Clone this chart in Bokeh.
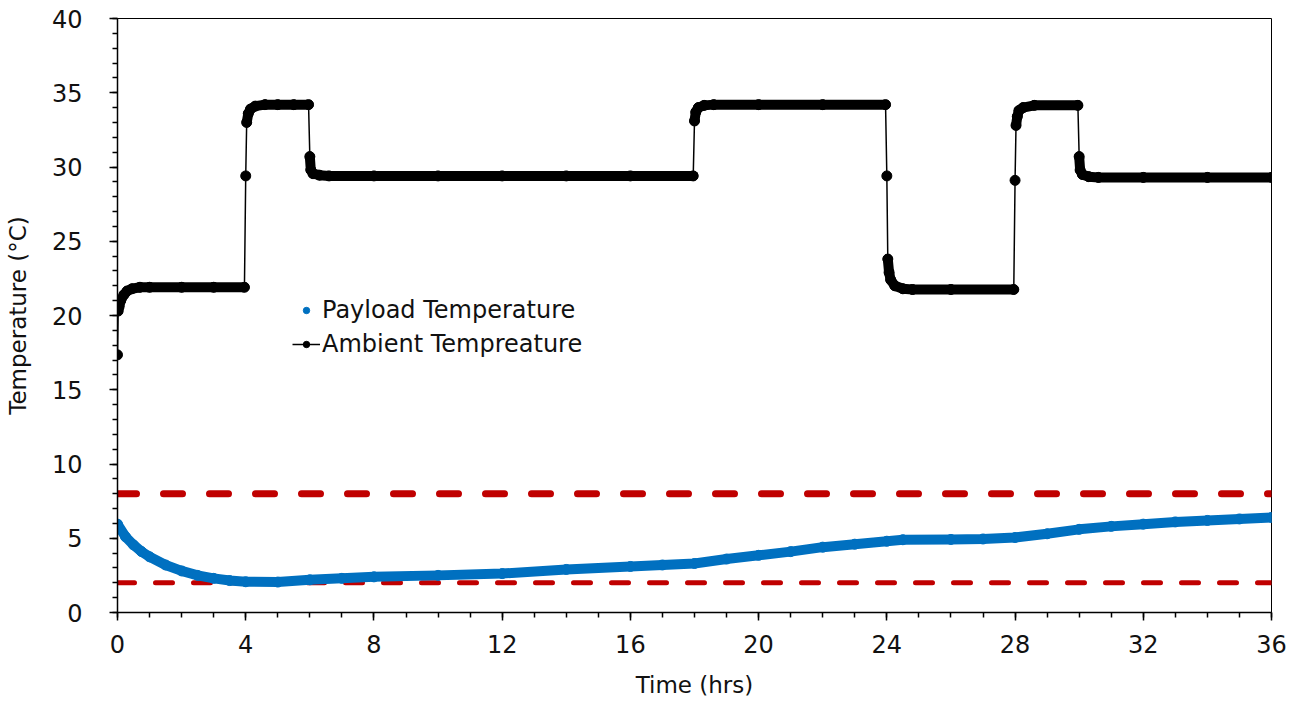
from bokeh.plotting import figure
from bokeh.models import SingleIntervalTicker, Legend, LegendItem
from bokeh.embed import file_html
from bokeh.resources import INLINE

# ---------------- data ----------------
amb_time = [0.0, 0.02, 0.05, 0.1, 0.2, 0.3, 0.45, 0.7, 1.0, 2.0, 3.0, 3.96,
            4.0, 4.03, 4.08, 4.15, 4.3, 4.6, 5.0, 5.5, 5.96,
            6.0, 6.03, 6.1, 6.3, 6.6, 8.0, 10.0, 12.0, 14.0, 16.0, 17.96,
            18.0, 18.04, 18.12, 18.3, 18.6, 20.0, 22.0, 23.96,
            24.0, 24.03, 24.07, 24.12, 24.25, 24.5, 24.8, 26.0, 27.96,
            28.0, 28.03, 28.07, 28.12, 28.25, 28.6, 29.96,
            30.0, 30.03, 30.1, 30.3, 30.6, 32.0, 34.0, 36.0]
amb_temp = [17.35, 20.3, 20.6, 21.0, 21.4, 21.65, 21.8, 21.9, 21.9, 21.9, 21.9, 21.9,
            29.4, 33.0, 33.6, 33.9, 34.1, 34.2, 34.2, 34.2, 34.2,
            30.7, 29.8, 29.55, 29.45, 29.4, 29.4, 29.4, 29.4, 29.4, 29.4, 29.4,
            33.1, 33.7, 34.0, 34.15, 34.2, 34.2, 34.2, 34.2,
            29.4, 23.8, 22.9, 22.4, 22.0, 21.8, 21.75, 21.75, 21.75,
            29.1, 32.8, 33.4, 33.8, 34.0, 34.15, 34.15,
            30.7, 29.8, 29.5, 29.35, 29.3, 29.3, 29.3, 29.3]

pay_time = [0.0, 0.25, 0.5, 0.75, 1.0, 1.5, 2.0, 2.5, 3.0, 3.5, 4.0, 5.0, 6.0, 7.0, 8.0,
            10.0, 12.0, 14.0, 16.0, 17.0, 18.0, 19.0, 20.0, 21.0, 22.0, 23.0, 24.0,
            24.5, 26.0, 27.0, 28.0, 29.0, 30.0, 31.0, 32.0, 33.0, 34.0, 35.0, 36.0]
pay_temp = [5.95, 5.1, 4.55, 4.1, 3.75, 3.2, 2.8, 2.5, 2.3, 2.15, 2.07, 2.05, 2.2, 2.3, 2.4,
            2.5, 2.62, 2.9, 3.1, 3.2, 3.3, 3.6, 3.85, 4.1, 4.4, 4.6, 4.8,
            4.9, 4.92, 4.95, 5.05, 5.3, 5.6, 5.8, 5.95, 6.1, 6.2, 6.3, 6.4]

limit_time = [0, 36]
upper_limit = [8, 8]
lower_limit = [2, 2]

FONT = "DejaVu Sans"
TXT = "#111111"
BLUE = "#0070C0"
RED = "#C00000"

p = figure(width=1291, height=700, x_range=(0, 36), y_range=(0, 40),
           output_backend="svg", toolbar_location=None,
           min_border_left=117, min_border_right=20, min_border_top=18, min_border_bottom=87)
p.xgrid.visible = False
p.ygrid.visible = False
p.outline_line_color = "black"
p.outline_line_width = 1
p.background_fill_color = "white"
p.border_fill_color = "white"

# limit lines
p.line(limit_time, upper_limit, line_color=RED, line_width=7, line_dash="19 27", line_cap="round")
p.line(limit_time, lower_limit, line_color=RED, line_width=5, line_dash="17 21", line_cap="round")

# payload
p.line(pay_time, pay_temp, line_color=BLUE, line_width=10, line_cap="round", line_join="round")
pay_sc = p.scatter(pay_time, pay_temp, size=10, marker="circle", fill_color=BLUE, line_color=BLUE)

# ambient
amb_line = p.line(amb_time, amb_temp, line_color="black", line_width=1.5)
x0, y0, x1, y1 = [], [], [], []
for i in range(len(amb_time) - 1):
    if abs(amb_temp[i + 1] - amb_temp[i]) < 1.0:
        x0.append(amb_time[i]); y0.append(amb_temp[i])
        x1.append(amb_time[i + 1]); y1.append(amb_temp[i + 1])
p.segment(x0=x0, y0=y0, x1=x1, y1=y1, line_color="black", line_width=10, line_cap="round")
amb_sc = p.scatter(amb_time, amb_temp, size=10, marker="circle", fill_color="black", line_color="black")

# axes
p.xaxis.ticker = SingleIntervalTicker(interval=4, num_minor_ticks=4)
p.yaxis.ticker = SingleIntervalTicker(interval=5, num_minor_ticks=5)
p.xaxis.axis_label = "Time (hrs)"
p.yaxis.axis_label = "Temperature (°C)"
for ax in (p.xaxis, p.yaxis):
    ax.axis_line_color = "black"
    ax.axis_line_width = 1.5
    ax.major_tick_line_color = "black"
    ax.major_tick_line_width = 1.5
    ax.minor_tick_line_color = "black"
    ax.minor_tick_line_width = 1.5
    ax.major_tick_in = 0
    ax.major_tick_out = 8
    ax.minor_tick_in = 0
    ax.minor_tick_out = 5
    ax.major_label_text_font = FONT
    ax.major_label_text_font_size = "24px"
    ax.major_label_text_color = TXT
    ax.axis_label_text_font = FONT
    ax.axis_label_text_font_size = "23px"
    ax.axis_label_text_font_style = "normal"
    ax.axis_label_text_color = TXT
p.yaxis.major_label_standoff = 27
p.xaxis.major_label_standoff = 14
p.yaxis.axis_label_standoff = 18
p.xaxis.axis_label_standoff = 16

legend = Legend(items=[LegendItem(label="Payload Temperature", renderers=[pay_sc]),
                       LegendItem(label="Ambient Tempreature", renderers=[amb_line, amb_sc])],
                location=(175, 253), border_line_color=None, background_fill_alpha=0,
                padding=0, margin=0, spacing=4, glyph_width=28, glyph_height=16,
                label_height=30, label_standoff=2, label_text_font=FONT,
                label_text_font_size="24px", label_text_color=TXT)
p.add_layout(legend)

open("out.html", "w").write(file_html(p, INLINE))
